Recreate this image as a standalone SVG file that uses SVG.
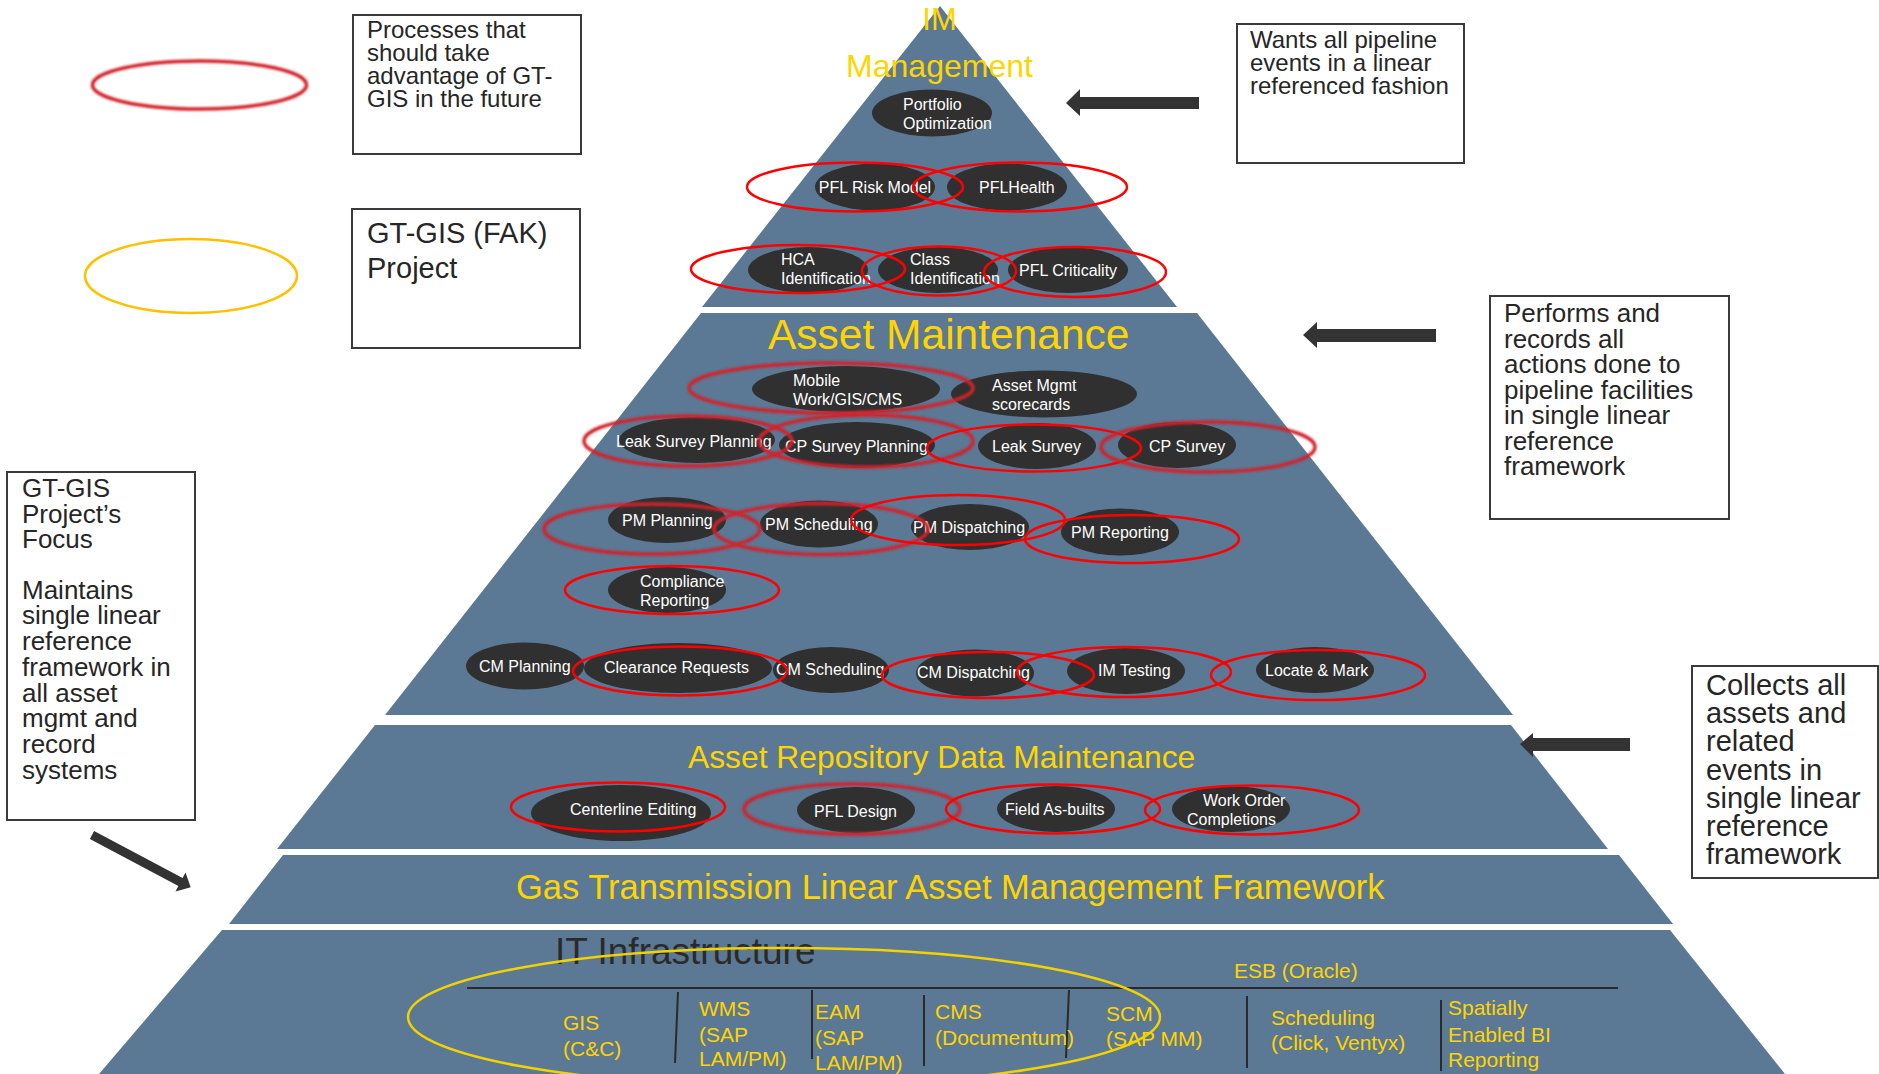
<svg xmlns="http://www.w3.org/2000/svg" width="1879" height="1074" viewBox="0 0 1879 1074">
<style>
.tier{fill:#5B7894}
.dk{fill:#303030}
.r{fill:none;stroke:#FF0000;stroke-width:2.5}
.rb{fill:none;stroke:#D3232B;stroke-width:3.5;filter:url(#blur)}
.wt{fill:#FFFFFF;font-family:"Liberation Sans",Arial,sans-serif;font-size:16px}
.yt{fill:#FFD500;font-family:"Liberation Sans",Arial,sans-serif}
.bx{fill:#FFFFFF;stroke:#3A3A3A;stroke-width:2}
.bt{fill:#262626;font-family:"Liberation Sans",Arial,sans-serif}
.ar{fill:#333333}
.dv{stroke:#2A2A2A;stroke-width:2;fill:none}
</style>
<defs>
<filter id="blur" x="-10%" y="-30%" width="120%" height="160%"><feGaussianBlur stdDeviation="0.9"/></filter>
</defs>
<rect width="1879" height="1074" fill="#FFFFFF"/>

<g id="tiers">
<polygon class="tier" points="940,6 1177,307 702,307"/>
<polygon class="tier" points="701,313 1197,313 1513,715 385,715"/>
<polygon class="tier" points="375,725 1511,725 1608,849 277,849"/>
<polygon class="tier" points="283,855 1619,855 1673,924 229,924"/>
<polygon class="tier" points="222,930 1670,930 1785,1074 99,1074"/>
</g>

<g id="tier-titles">
<text class="yt" x="939.5" y="30" font-size="31" text-anchor="middle">IM</text>
<text class="yt" x="939.5" y="77" font-size="32" text-anchor="middle">Management</text>
<text class="yt" x="768" y="349" font-size="42.5">Asset Maintenance</text>
<text class="yt" x="688" y="768" font-size="31.8">Asset Repository Data Maintenance</text>
<text class="yt" x="516" y="899" font-size="34.5">Gas Transmission Linear Asset Management Framework</text>
<text x="555" y="964" font-size="37" fill="#2A2A2A" font-family="&quot;Liberation Sans&quot;,Arial,sans-serif">IT Infrastructure</text>
</g>

<!-- IM Management nodes -->
<g id="n-portfolio"><ellipse class="dk" cx="932" cy="113" rx="60" ry="23.5"/><text class="wt"><tspan x="903" y="110">Portfolio</tspan><tspan x="903" y="129">Optimization</tspan></text></g>
<g id="n-pfl-risk"><ellipse class="dk" cx="875" cy="187" rx="60" ry="23.5"/><text class="wt" x="875" y="193" text-anchor="middle">PFL Risk Model</text></g>
<g id="n-pfl-health"><ellipse class="dk" cx="1007" cy="187" rx="60" ry="23.5"/><text class="wt" x="979" y="193">PFLHealth</text></g>
<g id="n-hca"><ellipse class="dk" cx="808" cy="270" rx="60" ry="23"/><text class="wt"><tspan x="781" y="265">HCA</tspan><tspan x="781" y="284">Identification</tspan></text></g>
<g id="n-class"><ellipse class="dk" cx="938" cy="270" rx="60" ry="23"/><text class="wt"><tspan x="910" y="265">Class</tspan><tspan x="910" y="284">Identification</tspan></text></g>
<g id="n-pfl-crit"><ellipse class="dk" cx="1068" cy="270" rx="60" ry="23"/><text class="wt" x="1019" y="276">PFL Criticality</text></g>

<!-- Asset Maintenance nodes -->
<g id="n-mobile"><ellipse class="dk" cx="846" cy="389" rx="94" ry="23"/><text class="wt"><tspan x="793" y="386">Mobile</tspan><tspan x="793" y="405">Work/GIS/CMS</tspan></text></g>
<g id="n-asset-mgmt"><ellipse class="dk" cx="1044" cy="394" rx="93" ry="23.5"/><text class="wt"><tspan x="992" y="391">Asset Mgmt</tspan><tspan x="992" y="410">scorecards</tspan></text></g>
<g id="n-leak-plan"><ellipse class="dk" cx="697" cy="440" rx="78" ry="23"/><text class="wt" x="616" y="447">Leak Survey Planning</text></g>
<g id="n-cp-plan"><ellipse class="dk" cx="857" cy="445" rx="78" ry="23"/><text class="wt" x="785" y="452">CP Survey Planning</text></g>
<g id="n-leak"><ellipse class="dk" cx="1037" cy="446" rx="59" ry="23"/><text class="wt" x="992" y="452">Leak Survey</text></g>
<g id="n-cp"><ellipse class="dk" cx="1177" cy="445" rx="59" ry="23"/><text class="wt" x="1149" y="452">CP Survey</text></g>
<g id="n-pm-plan"><ellipse class="dk" cx="667" cy="520" rx="59" ry="23"/><text class="wt" x="622" y="526">PM Planning</text></g>
<g id="n-pm-sched"><ellipse class="dk" cx="819" cy="524" rx="59" ry="23.5"/><text class="wt" x="765" y="530">PM Scheduling</text></g>
<g id="n-pm-disp"><ellipse class="dk" cx="970" cy="527" rx="59" ry="23"/><text class="wt" x="913" y="533">PM Dispatching</text></g>
<g id="n-pm-rep"><ellipse class="dk" cx="1120" cy="532" rx="59" ry="23.5"/><text class="wt" x="1071" y="538">PM Reporting</text></g>
<g id="n-compliance"><ellipse class="dk" cx="667" cy="590" rx="59" ry="23"/><text class="wt"><tspan x="640" y="587">Compliance</tspan><tspan x="640" y="606">Reporting</tspan></text></g>
<g id="n-cm-plan"><ellipse class="dk" cx="525" cy="666" rx="59" ry="23.5"/><text class="wt" x="479" y="672">CM Planning</text></g>
<g id="n-clearance"><ellipse class="dk" cx="678" cy="668" rx="94" ry="25"/><text class="wt" x="604" y="673">Clearance Requests</text></g>
<g id="n-cm-sched"><ellipse class="dk" cx="831" cy="670" rx="58" ry="23"/><text class="wt" x="776" y="675">CM Scheduling</text></g>
<g id="n-cm-disp"><ellipse class="dk" cx="975" cy="673" rx="59" ry="23.5"/><text class="wt" x="917" y="678">CM Dispatching</text></g>
<g id="n-im-test"><ellipse class="dk" cx="1126" cy="671" rx="59" ry="23"/><text class="wt" x="1098" y="676">IM Testing</text></g>
<g id="n-locate"><ellipse class="dk" cx="1315" cy="670" rx="59" ry="23"/><text class="wt" x="1265" y="676">Locate &amp; Mark</text></g>

<!-- Asset Repository nodes -->
<g id="n-centerline"><ellipse class="dk" cx="621" cy="813" rx="90" ry="28"/><text class="wt" x="570" y="815">Centerline Editing</text></g>
<g id="n-pfl-design"><ellipse class="dk" cx="856" cy="810" rx="59" ry="23"/><text class="wt" x="814" y="817">PFL Design</text></g>
<g id="n-field"><ellipse class="dk" cx="1056" cy="809" rx="59" ry="23"/><text class="wt" x="1005" y="815">Field As-builts</text></g>
<g id="n-work-order"><ellipse class="dk" cx="1231" cy="809" rx="59" ry="23"/><text class="wt"><tspan x="1203" y="806">Work Order</tspan><tspan x="1187" y="825">Completions</tspan></text></g>

<!-- future-process highlights -->
<g id="highlights">
<ellipse class="r" cx="855" cy="187" rx="108" ry="24.5"/>
<ellipse class="r" cx="1020" cy="187" rx="107" ry="24.5"/>
<ellipse class="r" cx="798" cy="269" rx="107" ry="24"/>
<ellipse class="r" cx="939" cy="271" rx="77" ry="24.5"/>
<ellipse class="r" cx="1075" cy="272" rx="91" ry="25"/>
<ellipse class="rb" cx="831" cy="388" rx="142" ry="25"/>
<ellipse class="rb" cx="688" cy="441" rx="104" ry="25"/>
<ellipse class="rb" cx="866" cy="441" rx="107" ry="26"/>
<ellipse class="r" cx="1034" cy="448" rx="107" ry="23.5"/>
<ellipse class="rb" cx="1208" cy="447" rx="107" ry="25"/>
<ellipse class="rb" cx="652" cy="529" rx="108" ry="25"/>
<ellipse class="rb" cx="821" cy="529" rx="107" ry="25.5"/>
<ellipse class="r" cx="958" cy="520" rx="107" ry="25"/>
<ellipse class="r" cx="1132" cy="539" rx="107" ry="24"/>
<ellipse class="r" cx="672" cy="590" rx="107" ry="24"/>
<ellipse class="r" cx="680" cy="671" rx="107" ry="24.5"/>
<ellipse class="r" cx="988" cy="675" rx="106" ry="23"/>
<ellipse class="r" cx="1124" cy="672" rx="107" ry="25"/>
<ellipse class="r" cx="1318" cy="675" rx="107" ry="25"/>
<ellipse class="r" cx="618" cy="807" rx="107" ry="24.5"/>
<ellipse class="rb" cx="852" cy="809" rx="108" ry="25"/>
<ellipse class="r" cx="1053" cy="809" rx="107" ry="24.5"/>
<ellipse class="r" cx="1252" cy="810" rx="107" ry="24.5"/>
</g>

<!-- IT infrastructure -->
<g id="it-infrastructure">
<line class="dv" x1="467" y1="988" x2="1618" y2="988"/>
<line class="dv" x1="678" y1="992" x2="675" y2="1063"/>
<line class="dv" x1="812" y1="990" x2="812" y2="1059"/>
<line class="dv" x1="924" y1="995" x2="924" y2="1066"/>
<line class="dv" x1="1069" y1="990" x2="1066" y2="1058"/>
<line class="dv" x1="1247" y1="996" x2="1247" y2="1068"/>
<line class="dv" x1="1441" y1="1000" x2="1441" y2="1071"/>
<text class="yt" x="1234" y="978" font-size="21">ESB (Oracle)</text>
<text class="yt" font-size="21"><tspan x="563" y="1030">GIS</tspan><tspan x="563" y="1056">(C&amp;C)</tspan></text>
<text class="yt" font-size="21"><tspan x="699" y="1016">WMS</tspan><tspan x="699" y="1042">(SAP</tspan><tspan x="699" y="1066">LAM/PM)</tspan></text>
<text class="yt" font-size="21"><tspan x="815" y="1019">EAM</tspan><tspan x="815" y="1045">(SAP</tspan><tspan x="815" y="1070">LAM/PM)</tspan></text>
<text class="yt" font-size="21"><tspan x="935" y="1019">CMS</tspan><tspan x="935" y="1045">(Documentum)</tspan></text>
<text class="yt" font-size="21"><tspan x="1106" y="1021">SCM</tspan><tspan x="1106" y="1046">(SAP MM)</tspan></text>
<text class="yt" font-size="21"><tspan x="1271" y="1025">Scheduling</tspan><tspan x="1271" y="1050">(Click, Ventyx)</tspan></text>
<text class="yt" font-size="21"><tspan x="1448" y="1015">Spatially</tspan><tspan x="1448" y="1042">Enabled BI</tspan><tspan x="1448" y="1067">Reporting</tspan></text>
<ellipse cx="784" cy="1017" rx="376" ry="69" fill="none" stroke="#F2D200" stroke-width="2.5"/>
</g>

<!-- legend -->
<g id="legend-future">
<ellipse class="rb" cx="199.5" cy="85" rx="107" ry="24"/>
<rect class="bx" x="353" y="15" width="228" height="139"/>
<text class="bt" font-size="24"><tspan x="367" y="38">Processes that</tspan><tspan x="367" y="61">should take</tspan><tspan x="367" y="84">advantage of GT-</tspan><tspan x="367" y="107">GIS in the future</tspan></text>
</g>
<g id="legend-project">
<ellipse cx="191" cy="276" rx="106" ry="37" fill="none" stroke="#FFC000" stroke-width="2.5"/>
<rect class="bx" x="352" y="209" width="228" height="139"/>
<text class="bt" font-size="29"><tspan x="367" y="243">GT-GIS (FAK)</tspan><tspan x="367" y="278">Project</tspan></text>
</g>

<!-- annotation boxes -->
<g id="box-wants">
<rect class="bx" x="1237" y="24" width="227" height="139"/>
<text class="bt" font-size="24"><tspan x="1250" y="48">Wants all pipeline</tspan><tspan x="1250" y="71">events in a linear</tspan><tspan x="1250" y="94">referenced fashion</tspan></text>
</g>
<g id="box-performs">
<rect class="bx" x="1490" y="296" width="239" height="223"/>
<text class="bt" font-size="26"><tspan x="1504" y="322">Performs and</tspan><tspan x="1504" y="347.5">records all</tspan><tspan x="1504" y="373">actions done to</tspan><tspan x="1504" y="398.5">pipeline facilities</tspan><tspan x="1504" y="424">in single linear</tspan><tspan x="1504" y="449.5">reference</tspan><tspan x="1504" y="475">framework</tspan></text>
</g>
<g id="box-collects">
<rect class="bx" x="1692" y="666" width="186" height="212"/>
<text class="bt" font-size="29"><tspan x="1706" y="695">Collects all</tspan><tspan x="1706" y="723.2">assets and</tspan><tspan x="1706" y="751.4">related</tspan><tspan x="1706" y="779.6">events in</tspan><tspan x="1706" y="807.8">single linear</tspan><tspan x="1706" y="836">reference</tspan><tspan x="1706" y="864.2">framework</tspan></text>
</g>
<g id="box-focus">
<rect class="bx" x="7" y="472" width="188" height="348"/>
<text class="bt" font-size="26"><tspan x="22" y="497">GT-GIS</tspan><tspan x="22" y="522.7">Project’s</tspan><tspan x="22" y="548.4">Focus</tspan><tspan x="22" y="598.7">Maintains</tspan><tspan x="22" y="624.4">single linear</tspan><tspan x="22" y="650.1">reference</tspan><tspan x="22" y="675.8">framework in</tspan><tspan x="22" y="701.5">all asset</tspan><tspan x="22" y="727.2">mgmt and</tspan><tspan x="22" y="752.9">record</tspan><tspan x="22" y="778.6">systems</tspan></text>
</g>

<g id="connectors">
<polygon class="ar" points="1066,103 1080,89 1080,97 1199,97 1199,109 1080,109 1080,116"/>
<polygon class="ar" points="1303,335 1317,322 1317,329 1436,329 1436,342 1317,342 1317,348"/>
<polygon class="ar" points="1520,744 1533,733 1533,738 1630,738 1630,751 1533,751 1533,757"/>
<polygon class="ar" points="94.1,831 182.6,877.9 185.5,872.4 190.7,887.3 175.5,891.4 178.4,885.9 89.9,839"/>
</g>
</svg>
